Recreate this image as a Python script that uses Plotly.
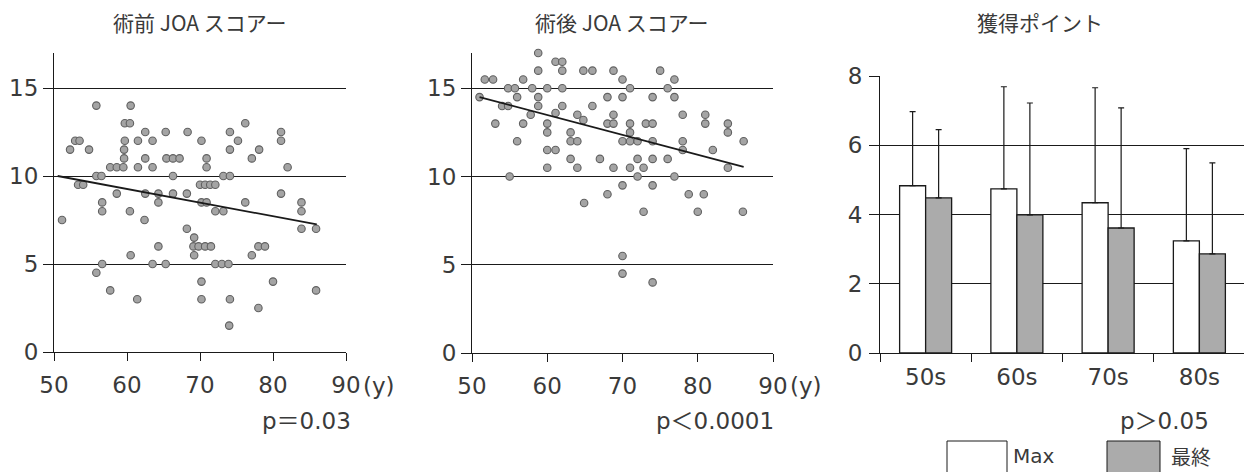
import plotly.graph_objects as go

# ---------------- data ----------------
pre_age = [55.8, 60.5, 59.7, 60.4, 62.5, 65.3, 68.3, 70.2, 52.9, 53.5, 52.2, 54.8, 59.7, 61.5, 63.5,
           59.6, 59.6, 62.5, 65.4, 66.3, 67.2, 70.9, 57.7, 58.6, 59.5, 61.5, 63.5, 70.9, 55.8, 56.5,
           66.3, 53.3, 54.0, 70.0, 70.7, 71.4, 72.1, 58.6, 62.5, 64.3, 66.3, 68.2,
           76.2, 74.1, 81.1, 81.1, 75.2, 74.1, 78.1, 77.1, 82.0, 73.2, 74.1, 81.1,
           56.6, 56.6, 64.3, 60.4, 62.4, 51.1, 70.2, 70.9, 68.2, 69.2, 69.1, 69.8, 70.7, 71.5,
           69.2, 64.3, 60.5, 56.6, 55.8, 63.5, 65.3, 57.7, 61.4, 70.2, 70.2,
           76.2, 83.9, 83.9, 72.1, 73.2, 83.9, 85.9, 78.0, 78.9, 77.1, 72.1, 73.0, 73.9, 80.0,
           74.1, 85.9, 78.0, 74.0]
pre_joa = [14, 14, 13, 13, 12.5, 12.5, 12.5, 12, 12, 12, 11.5, 11.5, 12, 12, 12,
           11.5, 11, 11, 11, 11, 11, 11, 10.5, 10.5, 10.5, 10.5, 10.5, 10.5, 10, 10,
           10, 9.5, 9.5, 9.5, 9.5, 9.5, 9.5, 9, 9, 9, 9, 9,
           13, 12.5, 12.5, 12, 12, 11.5, 11.5, 11, 10.5, 10, 10, 9,
           8.5, 8, 8.5, 8, 7.5, 7.5, 8.5, 8.5, 7, 6.5, 6, 6, 6, 6,
           5.5, 6, 5.5, 5, 4.5, 5, 5, 3.5, 3, 4, 3,
           8.5, 8.5, 8, 8, 8, 7, 7, 6, 6, 5.5, 5, 5, 5, 4,
           3, 3.5, 2.5, 1.5]
pre_fit_age = [50.5, 86.0]
pre_fit_joa = [10.0, 7.25]

post_age = [58.8, 61.1, 62.0, 58.8, 62.0, 64.8, 66.0, 68.8, 51.7, 52.8, 56.8, 54.8, 55.7, 58.0, 60.0,
            62.0, 56.0, 58.8, 68.0, 51.0, 58.8, 54.0, 54.8, 62.0, 66.0, 57.8, 61.1, 64.0, 68.8,
            53.1, 56.8, 60.0, 64.8, 68.0, 68.8, 60.0, 63.1, 63.1, 64.0, 56.0, 60.0, 61.1, 63.1,
            67.0, 60.0, 64.0, 68.8, 55.0, 68.0, 64.9,
            70.0, 75.0, 76.9, 71.0, 76.0, 70.0, 74.0, 76.9, 78.0, 81.0, 81.0, 84.0, 84.0, 86.1,
            71.0, 73.1, 74.0, 71.0, 70.0, 71.0, 72.0, 74.0, 78.0, 78.0, 82.0, 72.0, 74.0, 76.0,
            71.0, 72.8, 84.0, 72.0, 76.9, 70.0, 74.0, 78.8, 80.8,
            72.8, 80.0, 86.0, 70.0, 70.0, 74.0]
post_joa = [17, 16.5, 16.5, 16, 16, 16, 16, 16, 15.5, 15.5, 15.5, 15, 15, 15, 15,
            15, 14.5, 14.5, 14.5, 14.5, 14, 14, 14, 14, 14, 13.5, 13.6, 13.5, 13.5,
            13, 13, 13, 13.2, 13, 13, 12.5, 12.5, 12, 12, 12, 11.5, 11.5, 11,
            11, 10.5, 10.5, 10.5, 10, 9, 8.5,
            15.5, 16, 15.5, 15, 15, 14.5, 14.5, 14.5, 13.5, 13.5, 13, 13, 12.5, 12,
            13, 13, 13, 12.5, 12, 12, 12, 12, 12, 11.5, 11.5, 11, 11, 11,
            10.5, 10.5, 10.5, 10, 10, 9.5, 9.5, 9, 9,
            8, 8, 8, 5.5, 4.5, 4]
post_fit_age = [51.0, 86.1]
post_fit_joa = [14.5, 10.55]

age_ticks = [50, 60, 70, 80, 90]
joa_ticks = [0, 5, 10, 15]

groups = ["50s", "60s", "70s", "80s"]
max_mean = [4.83, 4.74, 4.34, 3.24]
max_sd = [2.14, 2.95, 3.32, 2.66]
final_mean = [4.48, 3.99, 3.61, 2.86]
final_sd = [1.97, 3.23, 3.47, 2.63]
point_ticks = [0, 2, 4, 6, 8]

titles = ["術前 JOA スコアー", "術後 JOA スコアー", "獲得ポイント"]
pvals = ["p＝0.03", "p＜0.0001", "p＞0.05"]
legend_names = ["Max", "最終"]

# ---------------- styling ----------------
CJK = "Noto Sans CJK JP"
NUM = "DejaVu Sans, Noto Sans CJK JP"
INK = "#1a1a1a"
TXT = "#3a3a3a"
W, H = 1244, 464          # figure sits at an 8px page offset inside the 1252x472 view
OFF = 8

def px_x(p):
    return (p - OFF) / W

def px_y(p):
    return (H - (p - OFF)) / H

fig = go.Figure()

marker = dict(size=7.5, color="#a4a4a4", line=dict(color="#606060", width=1.1))

fig.add_trace(go.Scatter(x=pre_age, y=pre_joa, mode="markers", marker=marker,
                         xaxis="x", yaxis="y", cliponaxis=False, showlegend=False))
fig.add_trace(go.Scatter(x=pre_fit_age, y=pre_fit_joa, mode="lines",
                         line=dict(color=INK, width=1.8), xaxis="x", yaxis="y", showlegend=False))
fig.add_trace(go.Scatter(x=post_age, y=post_joa, mode="markers", marker=marker,
                         xaxis="x2", yaxis="y2", cliponaxis=False, showlegend=False))
fig.add_trace(go.Scatter(x=post_fit_age, y=post_fit_joa, mode="lines",
                         line=dict(color=INK, width=1.8), xaxis="x2", yaxis="y2", showlegend=False))

err = dict(type="data", symmetric=False, arrayminus=[0] * len(groups), color=INK,
           thickness=1.2, width=3)
fig.add_trace(go.Bar(x=groups, y=max_mean, name=legend_names[0],
                     marker=dict(color="white", line=dict(color=INK, width=1.3)),
                     error_y=dict(err, array=max_sd), xaxis="x3", yaxis="y3", showlegend=False))
fig.add_trace(go.Bar(x=groups, y=final_mean, name=legend_names[1],
                     marker=dict(color="#ababab", line=dict(color=INK, width=1.3)),
                     error_y=dict(err, array=final_sd), xaxis="x3", yaxis="y3", showlegend=False))

tickfont = dict(family=NUM, size=23, color=TXT)

def scatter_x(dom, anchor):
    return dict(domain=dom, anchor=anchor, range=[50, 90], tickvals=age_ticks,
                ticks="outside", ticklen=8, tickwidth=1.2, tickcolor=INK,
                showline=True, linecolor=INK, linewidth=1.2, showgrid=False,
                zeroline=False, tickfont=tickfont, automargin=False, ticklabelstandoff=4)

def scatter_y(dom, anchor):
    return dict(domain=dom, anchor=anchor, range=[0, 17], tickvals=joa_ticks,
                ticks="outside", ticklen=10, tickwidth=1.2, tickcolor=INK,
                showline=True, linecolor=INK, linewidth=1.2, showgrid=True,
                gridcolor=INK, gridwidth=1.2, zeroline=False, tickfont=tickfont,
                automargin=False, ticklabelstandoff=0)

fig.update_layout(
    template="none",
    width=W, height=H,
    margin=dict(l=0, r=0, t=0, b=0, pad=0),
    paper_bgcolor="white", plot_bgcolor="white",
    font=dict(family=CJK, color=TXT),
    barmode="group", bargap=0.43, bargroupgap=0,
    xaxis=scatter_x([px_x(54), px_x(346)], "y"),
    yaxis=scatter_y([px_y(352), px_y(52.8)], "x"),
    xaxis2=scatter_x([px_x(472), px_x(773)], "y2"),
    yaxis2=scatter_y([px_y(353), px_y(53)], "x2"),
    xaxis3=dict(domain=[px_x(880), px_x(1245)], anchor="y3", tickson="boundaries",
                ticks="outside", ticklen=8, tickwidth=1.2, tickcolor=INK,
                showline=True, linecolor=INK, linewidth=1.2, showgrid=False,
                tickfont=tickfont, automargin=False, ticklabelstandoff=3),
    yaxis3=dict(domain=[px_y(353), px_y(76)], anchor="x3", range=[0, 8], tickvals=point_ticks,
                ticks="outside", ticklen=10, tickwidth=1.2, tickcolor=INK,
                showline=True, linecolor=INK, linewidth=1.2, showgrid=True,
                gridcolor=INK, gridwidth=1.2, zeroline=False, tickfont=tickfont,
                automargin=False, ticklabelstandoff=2),
)

annots = []
for t, cx in zip(titles, [200, 622, 1040]):
    annots.append(dict(text=t, x=px_x(cx), y=px_y(22), xref="paper", yref="paper",
                       xanchor="center", yanchor="middle", showarrow=False,
                       font=dict(family=CJK, size=21, color=TXT)))
for cx in [361, 788]:
    annots.append(dict(text="(y)", x=px_x(cx), y=px_y(386), xref="paper", yref="paper",
                       xanchor="left", yanchor="middle", showarrow=False, font=tickfont))
for t, rx in zip(pvals, [353, 776, 1211]):
    annots.append(dict(text=t, x=px_x(rx), y=px_y(421), xref="paper", yref="paper",
                       xanchor="right", yanchor="middle", showarrow=False, font=tickfont))
annots.append(dict(text=legend_names[0], x=px_x(1011), y=px_y(456), xref="paper", yref="paper",
                   xanchor="left", yanchor="middle", showarrow=False,
                   font=dict(family=NUM, size=20, color=TXT)))
annots.append(dict(text=legend_names[1], x=px_x(1169), y=px_y(456), xref="paper", yref="paper",
                   xanchor="left", yanchor="middle", showarrow=False,
                   font=dict(family=CJK, size=20, color=TXT)))
fig.update_layout(annotations=annots)

fig.add_shape(type="rect", xref="paper", yref="paper", x0=px_x(947), x1=px_x(1007),
              y0=px_y(476), y1=px_y(441), fillcolor="white", line=dict(color=INK, width=1))
fig.add_shape(type="rect", xref="paper", yref="paper", x0=px_x(1107), x1=px_x(1160),
              y0=px_y(476), y1=px_y(441), fillcolor="#ababab", line=dict(color=INK, width=1))

fig.write_html("out.html")
